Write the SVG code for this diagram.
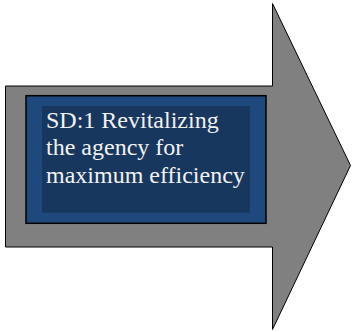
<svg xmlns="http://www.w3.org/2000/svg" width="352" height="332" viewBox="0 0 352 332">
<style>
.arrow{fill:#808080;stroke:#000;stroke-width:1}
.box{fill:#1F497D;stroke:#000;stroke-width:1.5}
.inner{fill:#17375E}
.lbl{font-family:"Liberation Serif","Times New Roman",serif;font-size:24px;fill:#F2F2F2}
</style>
<g id="arrow">
<path class="arrow" d="M5.5,86 H272.5 V3.5 L350.5,165.5 L272.5,329.5 V247 H5.5 Z"/>
</g>
<g id="sd1">
<rect class="box" x="26" y="95.7" width="240" height="127.6"/>
<rect class="inner" x="42" y="106" width="208" height="106.7"/>
<text class="lbl" x="46" y="127.5">SD:1 Revitalizing</text>
<text class="lbl" x="46" y="155.2">the agency for</text>
<text class="lbl" x="46" y="182.6">maximum efficiency</text>
</g>
</svg>
